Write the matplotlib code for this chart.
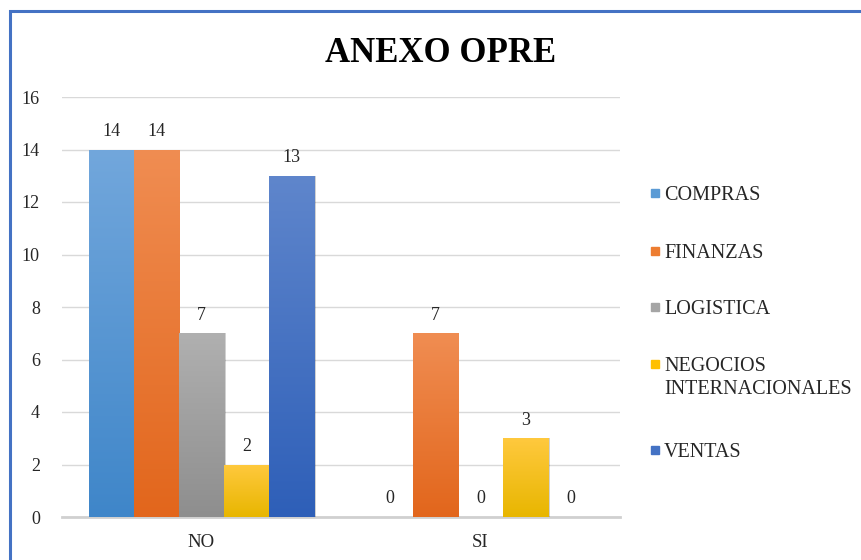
#!/usr/bin/env python3
# -*- coding: utf-8 -*-
"""
Gráfico de barras agrupadas: ANEXO OPRE por área.
"""

import numpy as np
import matplotlib.pyplot as plt
import matplotlib.transforms as mtransforms
from matplotlib.colors import LinearSegmentedColormap
from matplotlib.patches import Rectangle

plt.rcParams["font.family"] = ["Liberation Serif", "DejaVu Serif"]

# Datos
categorias = ["NO", "SI"]
areas = ["COMPRAS", "FINANZAS", "LOGISTICA", "NEGOCIOS\nINTERNACIONALES", "VENTAS"]
compras = [14, 0]
finanzas = [14, 7]
logistica = [7, 0]
negocios = [2, 3]
ventas = [13, 0]
serie = [compras, finanzas, logistica, negocios, ventas]

# Colores (arriba claro, abajo oscuro) por área
col_top = ["#72a7dc", "#f08d52", "#b0b0b0", "#ffc93e", "#5f86cc"]
col_bot = ["#3f86c9", "#e2661c", "#8e8e8e", "#e8b600", "#2e5fb8"]
col_leg = ["#5b9bd5", "#ed7d31", "#a5a5a5", "#ffc000", "#4472c4"]
texto = "#262626"

fig = plt.figure(figsize=(8.61, 5.60), dpi=100)
ax = fig.add_axes([62 / 861, 43 / 560, (620 - 62) / 861, (517 - 97) / 560])

x = np.arange(len(categorias))
ancho = 0.162
n = len(serie)

# sombra leve a la derecha de cada barra
sombra = mtransforms.offset_copy(ax.transData, fig=fig, x=1.5, y=0, units="dots")

for i, vals in enumerate(serie):
    pos = x + (i - (n - 1) / 2) * ancho
    barras = ax.bar(pos, vals, ancho, color="none", edgecolor="none", zorder=3)
    cmap = LinearSegmentedColormap.from_list(f"g{i}", [col_bot[i], col_top[i]])
    grad = np.linspace(0, 1, 256).reshape(-1, 1)
    for b, v in zip(barras, vals):
        if v <= 0:
            continue
        x0 = b.get_x()
        ax.add_patch(Rectangle((x0, 0), ancho, v, transform=sombra,
                               color="black", alpha=0.18, lw=0, zorder=2.5))
        im = ax.imshow(grad, cmap=cmap, origin="lower", aspect="auto",
                       extent=(x0, x0 + ancho, 0, v), zorder=3)
        im.set_clip_path(b)
    for b, v in zip(barras, vals):
        ax.annotate(f"{v}", (b.get_x() + ancho / 2, v), xytext=(0, 7),
                    textcoords="offset points", ha="center", va="bottom",
                    fontsize=13, color=texto, zorder=4)

ax.set_xlim(-0.5, 1.5)
ax.set_ylim(0, 16)
ax.set_yticks(range(0, 17, 2))
ax.set_xticks(x)
ax.set_xticklabels(categorias)
ax.tick_params(axis="both", length=0, labelsize=13, colors=texto)
ax.tick_params(axis="x", labelsize=13.5, pad=12)
ax.tick_params(axis="y", pad=16)
ax.yaxis.grid(True, color="#d9d9d9", linewidth=1, zorder=0)
ax.set_axisbelow(True)
for s in ["top", "right", "left"]:
    ax.spines[s].set_visible(False)
ax.spines["bottom"].set_color("#d0d0d0")
ax.spines["bottom"].set_linewidth(2)
ax.spines["bottom"].set_zorder(2)

# Título
fig.text(441 / 861, 1 - 62 / 560, "ANEXO OPRE", ha="center", va="baseline",
         fontsize=25, fontweight="bold", color="black")

# Leyenda
leg_y = [193, 251, 307, 364, 450]
for i, nombre in enumerate(areas):
    y = 1 - leg_y[i] / 560
    fig.add_artist(Rectangle((651 / 861, y - 4 / 560), 8 / 861, 8 / 560,
                             transform=fig.transFigure, color=col_leg[i]))
    fig.text(664 / 861, y + 7 / 560, nombre, ha="left", va="top",
             fontsize=14.5, color=texto, linespacing=1.32)

# Marco azul
fig.add_artist(Rectangle((10 / 861, -0.05), 1.1, 1 - 11 / 560 + 0.05,
                         transform=fig.transFigure, fill=False,
                         edgecolor="#4472c4", linewidth=2.2))

fig.savefig("out.png", dpi=100)
